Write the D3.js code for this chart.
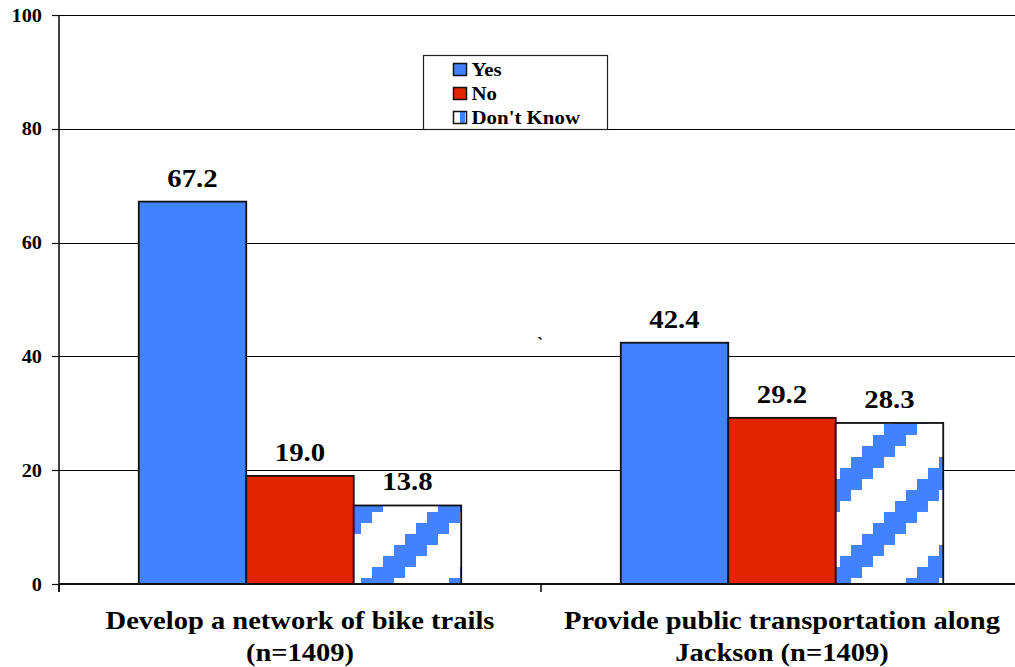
<!DOCTYPE html>
<html>
<head>
<meta charset="utf-8">
<script src="https://cdn.jsdelivr.net/npm/d3@7"></script>
<style>
  html, body { margin: 0; padding: 0; background: #fff; }
  svg { display: block; }
  text { font-family: "Liberation Serif", "Times New Roman", serif; font-weight: bold; fill: #000; }
</style>
</head>
<body>
<svg id="chart" width="1015" height="667"></svg>
<script>
// ---- data ----
const categories = ["Develop a network of bike trails (n=1409)", "Provide public transportation along Jackson (n=1409)"];
const categoryLines = [["Develop a network of bike trails", "(n=1409)"], ["Provide public transportation along", "Jackson (n=1409)"]];
const series = ["Yes", "No", "Don't Know"];
const yesValues = [67.2, 42.4];
const noValues = [19.0, 29.2];
const dontKnowValues = [13.8, 28.3];
const yTicks = [0, 20, 40, 60, 80, 100];

// ---- layout / style ----
const W = 1015, H = 667;
const plot = { left: 59, top: 15, bottom: 584, right: 1023 };
const blue = "#4282FF", red = "#E32400";
const stretch = 1.13;
const hatchOffsets = [{ dx: -14.75, dy: -70.5 }, { dx: -6.75, dy: 67 }];

const svg = d3.select("#chart");
const defs = svg.append("defs");

const y = d3.scaleLinear().domain([0, 100]).range([plot.bottom, plot.top]);
const x0 = d3.scaleBand().domain(categories).range([plot.left, plot.right])
  .paddingInner(0.331).paddingOuter(0.1655);
const x1 = d3.scaleBand().domain(series).range([0, x0.bandwidth()]);

const valuesBySeries = { "Yes": yesValues, "No": noValues, "Don't Know": dontKnowValues };
const rows = [];
categories.forEach((c, i) => {
  series.forEach(s => rows.push({ cat: c, ci: i, s, v: valuesBySeries[s][i] }));
});

// gridlines
svg.append("g").selectAll("line").data(yTicks.filter(d => d > 0)).join("line")
  .attr("x1", plot.left).attr("x2", W)
  .attr("y1", d => Math.round(y(d)) + 0.5).attr("y2", d => Math.round(y(d)) + 0.5)
  .attr("stroke", "#000").attr("stroke-width", 1);

// hatch patterns (one per Don't Know bar)
function hatchPath() {
  const s = 11, n = 8, T = s * n;
  let p = "";
  for (let k = 0; k < n; k++) {
    const x = (n - 1 - k) * s, yy = k * s;
    [x - T, x, x + T].forEach(xs => {
      p += `M${xs},${yy}h${3 * s}v${s}h${-3 * s}Z`;
    });
  }
  return p;
}
rows.filter(r => r.s === "Don't Know").forEach(r => {
  const bx = x0(r.cat) + x1(r.s), by = y(r.v);
  const off = hatchOffsets[r.ci];
  const pat = defs.append("pattern").attr("id", "hatch" + r.ci)
    .attr("patternUnits", "userSpaceOnUse").attr("width", 88).attr("height", 88)
    .attr("x", bx + off.dx).attr("y", by + off.dy);
  pat.append("rect").attr("width", 88).attr("height", 88).attr("fill", "#fff");
  pat.append("path").attr("d", hatchPath()).attr("fill", blue).attr("shape-rendering", "crispEdges");
});

// bars
svg.append("g").selectAll("rect").data(rows).join("rect")
  .attr("x", d => x0(d.cat) + x1(d.s))
  .attr("y", d => y(d.v))
  .attr("width", x1.bandwidth())
  .attr("height", d => y(0) - y(d.v))
  .attr("fill", d => d.s === "Yes" ? blue : d.s === "No" ? red : `url(#hatch${d.ci})`)
  .attr("stroke", "#111").attr("stroke-width", 1.8);

// value labels
svg.append("g").selectAll("text").data(rows).join("text")
  .attr("transform", d => `translate(${x0(d.cat) + x1(d.s) + x1.bandwidth() / 2},${y(d.v) - 15}) scale(${stretch},1)`)
  .attr("text-anchor", "middle").attr("font-size", 25.5)
  .text(d => d.v.toFixed(1));

// y axis
svg.append("line").attr("x1", plot.left).attr("x2", plot.left)
  .attr("y1", plot.top).attr("y2", plot.bottom + 8)
  .attr("stroke", "#111").attr("stroke-width", 1.6);
svg.append("g").selectAll("line").data(yTicks).join("line")
  .attr("x1", plot.left - 7).attr("x2", plot.left)
  .attr("y1", d => Math.round(y(d)) + 0.5).attr("y2", d => Math.round(y(d)) + 0.5)
  .attr("stroke", "#111").attr("stroke-width", 1.2);
svg.append("g").selectAll("text").data(yTicks).join("text")
  .attr("transform", d => `translate(42,${y(d) + 6.5}) scale(${stretch},1)`)
  .attr("text-anchor", "end").attr("font-size", 18)
  .text(d => d);

// x axis
svg.append("line").attr("x1", plot.left).attr("x2", W)
  .attr("y1", plot.bottom).attr("y2", plot.bottom)
  .attr("stroke", "#111").attr("stroke-width", 2);
const boundaries = [x0.range()[0], ...categories.slice(1).map(c => x0(c) - x0.step() * x0.paddingInner() / 2)];
svg.append("g").selectAll("line").data(boundaries).join("line")
  .attr("x1", d => d).attr("x2", d => d)
  .attr("y1", plot.bottom).attr("y2", plot.bottom + 8)
  .attr("stroke", "#111").attr("stroke-width", 1.6);

// category labels
categories.forEach((c, i) => {
  categoryLines[i].forEach((line, j) => {
    svg.append("text")
      .attr("transform", `translate(${x0(c) + x0.bandwidth() / 2},${629 + j * 32}) scale(1.15,1)`)
      .attr("text-anchor", "middle").attr("font-size", 24.8)
      .text(line);
  });
});

// stray mark
svg.append("text").attr("x", 537).attr("y", 350).attr("font-size", 18).attr("font-weight", "normal").text("`");

// legend
const lg = svg.append("g").attr("transform", "translate(423.5,55.5)");
lg.append("rect").attr("width", 184).attr("height", 74).attr("fill", "#fff")
  .attr("stroke", "#222").attr("stroke-width", 1.2);
series.forEach((s, i) => {
  const g = lg.append("g").attr("transform", `translate(30,${8 + i * 24})`);
  if (s === "Don't Know") {
    g.append("rect").attr("width", 13).attr("height", 12).attr("fill", "#fff");
    g.append("rect").attr("x", 6.5).attr("width", 5).attr("height", 12).attr("fill", blue);
    g.append("rect").attr("width", 13).attr("height", 12).attr("fill", "none").attr("stroke", "#111").attr("stroke-width", 1.5);
  } else {
    g.append("rect").attr("width", 13).attr("height", 12)
      .attr("fill", s === "Yes" ? blue : red).attr("stroke", "#111").attr("stroke-width", 1.5);
  }
  g.append("text").attr("transform", `translate(18,12) scale(${stretch},1)`)
    .attr("font-size", 18.5).text(s);
});
</script>
</body>
</html>
